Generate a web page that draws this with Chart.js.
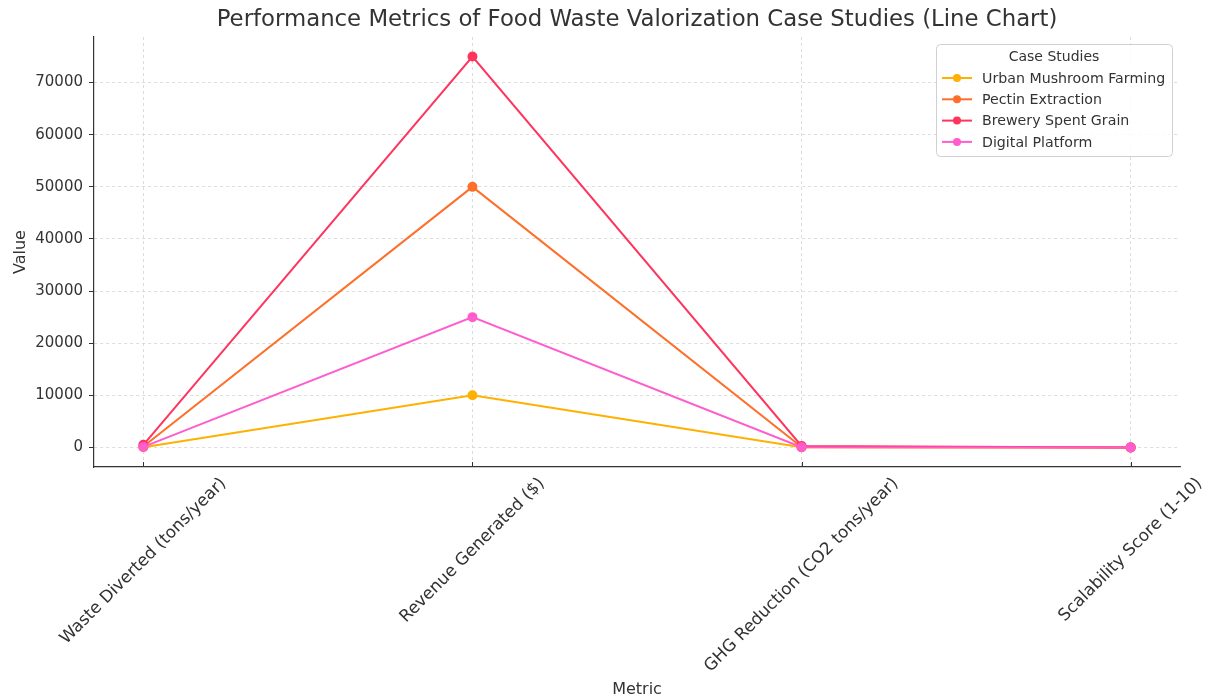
<!DOCTYPE html>
<html><head><meta charset="utf-8">
<script src="https://cdn.jsdelivr.net/npm/chart.js@4"></script>
<style>html,body{margin:0;padding:0;background:#fff}#wrap{width:1209px;height:699px}</style>
</head><body><div id="wrap"><canvas id="c"></canvas></div>
<script>
const chartTitle = 'Performance Metrics of Food Waste Valorization Case Studies (Line Chart)';
const metrics = ["Waste Diverted (tons/year)", "Revenue Generated ($)", "GHG Reduction (CO2 tons/year)", "Scalability Score (1-10)"];
const seriesNames = ["Urban Mushroom Farming", "Pectin Extraction", "Brewery Spent Grain", "Digital Platform"];
const urbanMushroom = [50, 10000, 20, 8];
const pectinExtraction = [200, 50000, 100, 7];
const brewerySpentGrain = [500, 75000, 300, 9];
const digitalPlatform = [100, 25000, 50, 10];
const yTickValues = [0, 10000, 20000, 30000, 40000, 50000, 60000, 70000];
const colors = ["#FFB000", "#FE6F2A", "#FF355E", "#FF5CCD"];

const allSeries = [urbanMushroom, pectinExtraction, brewerySpentGrain, digitalPlatform];
const FONT = "'DejaVu Sans', sans-serif";

const datasets = allSeries.map((arr, i) => ({
  label: seriesNames[i],
  data: arr.map((v, j) => ({x: j, y: v})),
  borderColor: colors[i],
  backgroundColor: colors[i],
  borderWidth: 2,
  pointRadius: 4,
  pointHoverRadius: 4,
  order: allSeries.length - 1 - i,
  clip: false
}));

const titlePlugin = {
  id: 'axesTitle',
  afterDraw(chart) {
    const ctx = chart.ctx, a = chart.chartArea;
    ctx.save();
    ctx.font = "22.8px " + FONT;
    ctx.fillStyle = '#333';
    ctx.textAlign = 'center';
    ctx.textBaseline = 'middle';
    ctx.fillText(chartTitle, (a.left + a.right) / 2, 20);
    ctx.restore();
  }
};

const legendPlugin = {
  id: 'insideLegend',
  afterDraw(chart) {
    const ctx = chart.ctx;
    const x0 = 936, y0 = 44, w = 236, h = 112;
    ctx.save();
    ctx.fillStyle = 'rgba(255,255,255,0.85)';
    ctx.strokeStyle = '#d0d0d0';
    ctx.lineWidth = 1;
    ctx.beginPath();
    ctx.roundRect(x0 + 0.5, y0 + 0.5, w, h, 4);
    ctx.fill(); ctx.stroke();
    ctx.fillStyle = '#333';
    ctx.font = "14px " + FONT;
    ctx.textAlign = 'center';
    ctx.textBaseline = 'middle';
    ctx.fillText('Case Studies', x0 + w / 2, y0 + 13);
    ctx.textAlign = 'left';
    ctx.font = "14.2px " + FONT;
    seriesNames.forEach((name, i) => {
      const y = y0 + 34 + i * 21.3;
      ctx.strokeStyle = colors[i];
      ctx.lineWidth = 2;
      ctx.beginPath(); ctx.moveTo(x0 + 6, y); ctx.lineTo(x0 + 36, y); ctx.stroke();
      ctx.fillStyle = colors[i];
      ctx.beginPath(); ctx.arc(x0 + 21, y, 4, 0, Math.PI * 2); ctx.fill();
      ctx.fillStyle = '#333';
      ctx.fillText(name, x0 + 46, y + 1);
    });
    ctx.restore();
  }
};

const xLabelPlugin = {
  id: 'xLabels',
  afterDraw(chart) {
    const ctx = chart.ctx;
    const xs = chart.scales.x;
    const top = xs.top + 8;
    ctx.save();
    // small inward tick marks
    ctx.strokeStyle = '#333';
    ctx.lineWidth = 1;
    metrics.forEach((m, i) => {
      const tx = Math.round(xs.getPixelForValue(i)) + 0.5;
      ctx.beginPath(); ctx.moveTo(tx, xs.top - 5); ctx.lineTo(tx, xs.top); ctx.stroke();
    });
    const fs = 16.8;
    ctx.font = fs + "px " + FONT;
    ctx.fillStyle = '#333';
    ctx.textAlign = 'center';
    ctx.textBaseline = 'middle';
    metrics.forEach((m, i) => {
      const W = ctx.measureText(m).width;
      const bboxH = (W + fs) * Math.SQRT1_2;
      const tx = xs.getPixelForValue(i);
      const cy = top + bboxH / 2;
      ctx.save();
      ctx.translate(tx, cy);
      ctx.rotate(-Math.PI / 4);
      ctx.fillText(m, 0, 0);
      ctx.restore();
    });
    ctx.restore();
  }
};

new Chart(document.getElementById('c'), {
  type: 'line',
  data: { datasets },
  plugins: [legendPlugin, xLabelPlugin, titlePlugin],
  options: {
    responsive: true,
    maintainAspectRatio: false,
    animation: false,
    layout: { padding: { left: 0, right: 29, top: 37, bottom: 0 } },
    plugins: {
      legend: { display: false },
      tooltip: { enabled: false },
      title: { display: false }
    },
    scales: {
      x: {
        type: 'linear',
        min: -0.15,
        max: 3.15,
        afterBuildTicks(scale) { scale.ticks = metrics.map((m, i) => ({ value: i })); },
        afterFit(scale) { scale.height = 232; scale.paddingLeft = 0; scale.paddingRight = 0; },
        ticks: {
          callback: () => '',
          maxRotation: 0, minRotation: 0,
          font: { family: FONT, size: 16 },
          padding: 0
        },
        grid: {
          color: '#d4d4d4', lineWidth: 0.8,
          drawTicks: false
        },
        border: { display: true, color: '#333', width: 1.2, dash: [3, 3] },
        title: { display: true, text: 'Metric', color: '#333', font: { family: FONT, size: 16 }, padding: { top: 0, bottom: 0 } }
      },
      y: {
        type: 'linear',
        min: -3750,
        max: 78750,
        afterBuildTicks(scale) { scale.ticks = yTickValues.map(v => ({ value: v })); },
        afterFit(scale) { scale.width = 94; scale.paddingTop = 0; scale.paddingBottom = 0; },
        ticks: {
          callback: (v) => String(v),
          color: '#333',
          font: { family: FONT, size: 15 },
          padding: 6
        },
        grid: {
          color: '#d4d4d4', lineWidth: 0.8,
          drawTicks: true, tickLength: 5, tickColor: '#333', tickBorderDash: [], tickWidth: 1
        },
        border: { display: true, color: '#333', width: 1.2, dash: [3, 3] },
        title: { display: true, text: 'Value', color: '#333', font: { family: FONT, size: 16 }, padding: { top: 11, bottom: 0 } }
      }
    }
  }
});
</script>
</body></html>
